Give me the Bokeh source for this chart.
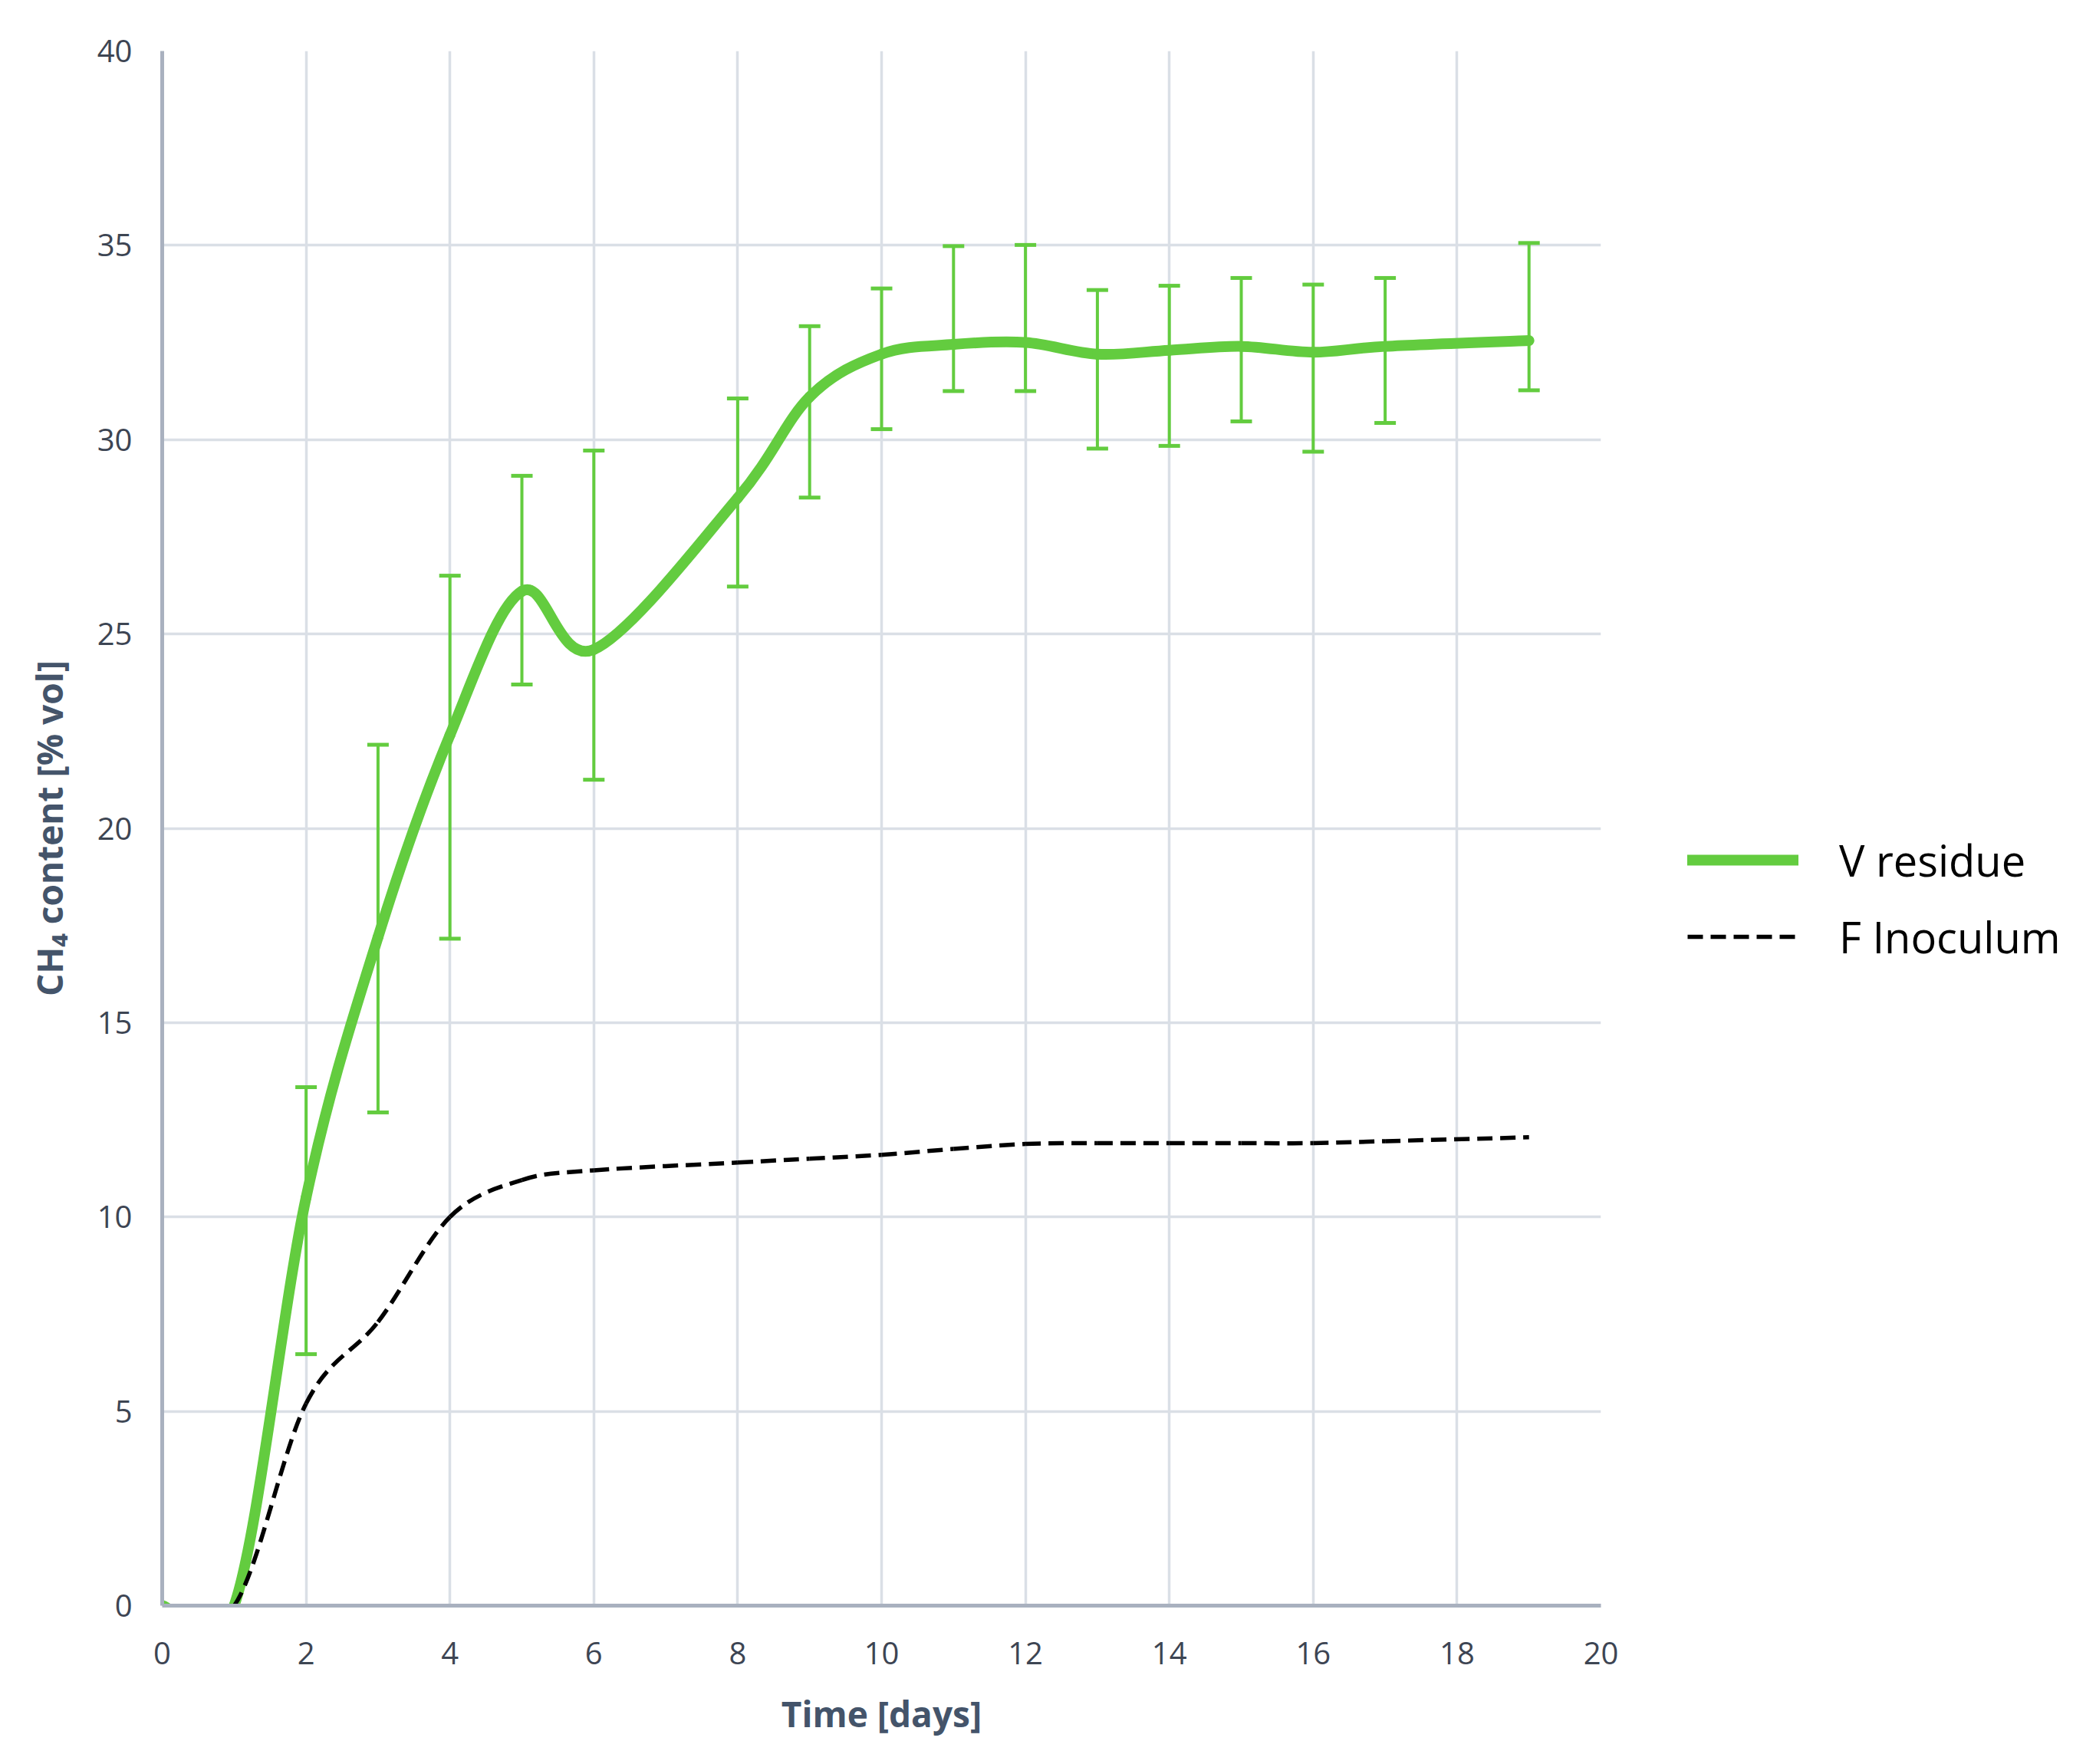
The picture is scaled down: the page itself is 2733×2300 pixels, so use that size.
from bokeh.plotting import figure
from bokeh.models import (Range1d, FixedTicker, Whisker, TeeHead, ColumnDataSource,
                          Legend, LegendItem)
from bokeh.embed import file_html
from bokeh.resources import INLINE

# ---------------- data ----------------
days = [0, 1, 2, 3, 4, 5, 6, 8, 9, 10, 11, 12, 13, 14, 15, 16, 17, 19]
v_residue = [0, 0, 10.5, 17.2, 22.4, 26.1, 24.6, 28.5, 31.1, 32.2, 32.45, 32.5,
             32.2, 32.3, 32.4, 32.25, 32.4, 32.55]
f_inoculum = [0, 0, 5.2, 7.3, 10.0, 10.95, 11.2, 11.4, 11.5, 11.6, 11.75, 11.88,
              11.9, 11.9, 11.9, 11.9, 11.95, 12.05]

err_days = [2, 3, 4, 5, 6, 8, 9, 10, 11, 12, 13, 14, 15, 16, 17, 19]
v_upper = [13.34, 22.15, 26.5, 29.07, 29.72, 31.06, 32.92, 33.89, 34.98, 35.01,
           33.85, 33.96, 34.16, 33.99, 34.16, 35.06]
v_lower = [6.47, 12.69, 17.16, 23.7, 21.25, 26.22, 28.51, 30.27, 31.25, 31.25,
           29.77, 29.84, 30.47, 29.69, 30.43, 31.27]

x_ticks = [0, 2, 4, 6, 8, 10, 12, 14, 16, 18, 20]
y_ticks = [0, 5, 10, 15, 20, 25, 30, 35, 40]

GREEN = "#63cc3f"
AXIS_COL = "#a9b1bf"
GRID_COL = "#dadfe6"
TICK_COL = "#3d4553"
TITLE_COL = "#44546a"
FONT = "Open Sans"


def smooth_segments(xs, ys, t=1.0 / 6.0):
    """Bezier segments of a smoothed line through the data points."""
    n = len(xs)
    out = dict(x0=[], y0=[], x1=[], y1=[], cx0=[], cy0=[], cx1=[], cy1=[])
    for i in range(n - 1):
        ip = max(i - 1, 0)
        inn = min(i + 2, n - 1)
        out["x0"].append(xs[i]); out["y0"].append(ys[i])
        out["x1"].append(xs[i + 1]); out["y1"].append(ys[i + 1])
        out["cx0"].append(xs[i] + (xs[i + 1] - xs[ip]) * t)
        out["cy0"].append(ys[i] + (ys[i + 1] - ys[ip]) * t)
        out["cx1"].append(xs[i + 1] - (xs[inn] - xs[i]) * t)
        out["cy1"].append(ys[i + 1] - (ys[inn] - ys[i]) * t)
    return ColumnDataSource(out)


p = figure(frame_width=1876, frame_height=2027,
           x_range=Range1d(0, 20), y_range=Range1d(0, 40),
           output_backend="svg", toolbar_location=None,
           min_border_left=211, min_border_right=630,
           min_border_top=66, min_border_bottom=195)
p.outline_line_color = None
p.background_fill_color = "white"
p.border_fill_color = "white"

p.xaxis.ticker = FixedTicker(ticks=x_ticks)
p.yaxis.ticker = FixedTicker(ticks=y_ticks)
p.xgrid.ticker = FixedTicker(ticks=x_ticks)
p.ygrid.ticker = FixedTicker(ticks=y_ticks)
for g in (p.xgrid[0], p.ygrid[0]):
    g.grid_line_color = GRID_COL
    g.grid_line_width = 3.5

for ax in (p.xaxis[0], p.yaxis[0]):
    ax.axis_line_color = AXIS_COL
    ax.axis_line_width = 5
    ax.major_tick_line_color = None
    ax.minor_tick_line_color = None
    ax.major_tick_out = 0
    ax.major_tick_in = 0
    ax.major_label_text_font = FONT
    ax.major_label_text_font_size = "40px"
    ax.major_label_text_color = TICK_COL
    ax.axis_label_text_font = FONT
    ax.axis_label_text_font_style = "bold"
    ax.axis_label_text_font_size = "46px"
    ax.axis_label_text_color = TITLE_COL

p.xaxis.axis_label = "Time [days]"
p.yaxis.axis_label = "CH₄ content [% vol]"
p.xaxis.major_label_standoff = 47
p.yaxis.major_label_standoff = 39
p.xaxis.axis_label_standoff = 30
p.yaxis.axis_label_standoff = 29

# green smoothed line
g_src = smooth_segments(days, v_residue)
r_green = p.bezier(x0="x0", y0="y0", x1="x1", y1="y1", cx0="cx0", cy0="cy0",
                   cx1="cx1", cy1="cy1", source=g_src,
                   line_color=GREEN, line_width=14, line_cap="round")

# error bars
e_src = ColumnDataSource(dict(x=err_days, upper=v_upper, lower=v_lower))
wh = Whisker(source=e_src, base="x", upper="upper", lower="lower",
             line_color=GREEN, line_width=4,
             upper_head=TeeHead(size=28, line_color=GREEN, line_width=5),
             lower_head=TeeHead(size=28, line_color=GREEN, line_width=5))
p.add_layout(wh)

# black dashed smoothed line
f_src = smooth_segments(days, f_inoculum)
r_black = p.bezier(x0="x0", y0="y0", x1="x1", y1="y1", cx0="cx0", cy0="cy0",
                   cx1="cx1", cy1="cy1", source=f_src,
                   line_color="black", line_width=5.5, line_dash="20 10")

legend = Legend(items=[LegendItem(label="V residue", renderers=[r_green]),
                       LegendItem(label="F Inoculum", renderers=[r_black])],
                location=(113, 834), orientation="vertical",
                glyph_width=145, glyph_height=60, label_height=60,
                label_standoff=53, spacing=24, padding=0, margin=0,
                border_line_color=None, background_fill_alpha=0,
                label_text_font=FONT, label_text_font_size="56px",
                label_text_color="black")
p.add_layout(legend, "right")

open("out.html", "w").write(file_html(p, INLINE))
